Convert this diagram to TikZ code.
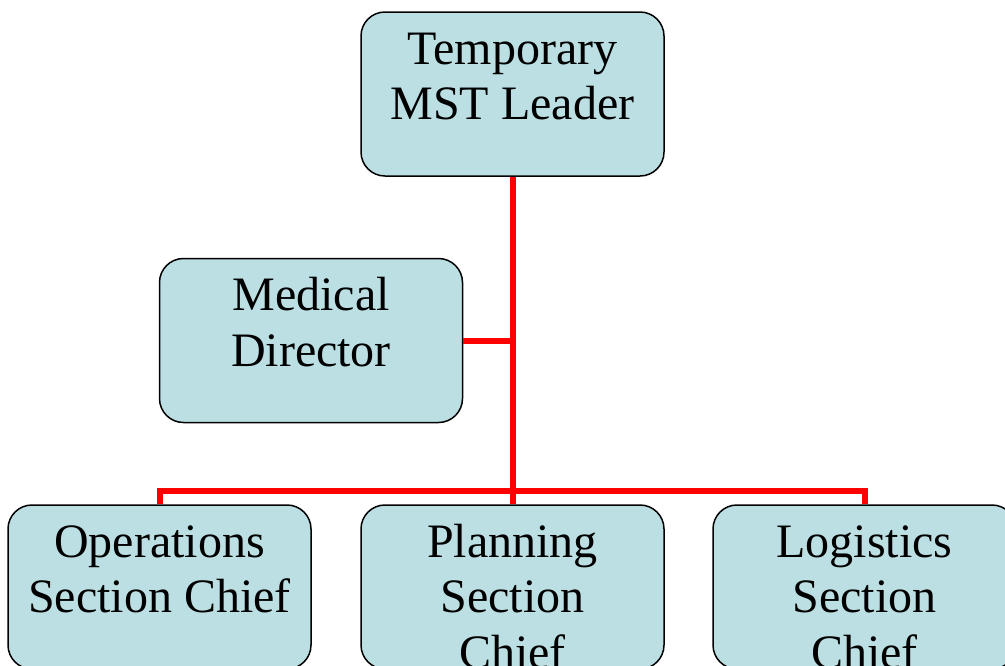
\documentclass[tikz,border=0pt]{standalone}
\usepackage{fontspec}
\setmainfont{Liberation Serif}
\definecolor{boxfill}{RGB}{187,223,227}
\definecolor{linkred}{RGB}{255,0,0}
\tikzset{
  x=1pt, y=-1pt,
  orgbox/.style={draw=black, line width=1.5pt, fill=boxfill, rounded corners=24pt,
    minimum width=303pt, minimum height=164pt, inner sep=0pt},
  orgtext/.style={anchor=north, inner sep=0pt, align=center,
    font=\fontsize{48}{55.5}\selectfont},
  link/.style={draw=linkred, line width=6pt, line join=miter},
}
\newcommand{\firstline}{\rule{0pt}{36pt}}
\begin{document}
\begin{tikzpicture}
\useasboundingbox (0,0) rectangle (1005,665);
\clip (0,0) rectangle (1005,665);

% boxes
\node[orgbox] (lead) at (512.5,94) {};
\node[orgbox] (med)  at (311,340.5) {};
\node[orgbox] (ops)  at (159.5,587) {};
\node[orgbox] (plan) at (512.5,587) {};
\node[orgbox] (log)  at (864.5,587) {};

% connectors
\coordinate (bus) at (512.5,491);
\draw[link] (lead.south) -- (plan.north);
\draw[link] (med.east) -- (med.east -| lead.south);
\draw[link] (ops.north) |- (bus) -| (log.north);

% labels, first baseline 53pt below each box top
\node[orgtext] (leadtxt) at ([yshift=-17pt]lead.north) {\firstline Temporary\\MST Leader};
\node[orgtext] (medtxt)  at ([yshift=-17pt]med.north)  {\firstline Medical\\Director};
\node[orgtext] (opstxt)  at ([yshift=-17pt]ops.north)  {\firstline Operations\\Section Chief};
\node[orgtext] (plantxt) at ([yshift=-17pt]plan.north) {\firstline Planning\\Section\\Chief};
\node[orgtext] (logtxt)  at ([yshift=-17pt]log.north)  {\firstline Logistics\\Section\\Chief};
\end{tikzpicture}
\end{document}
